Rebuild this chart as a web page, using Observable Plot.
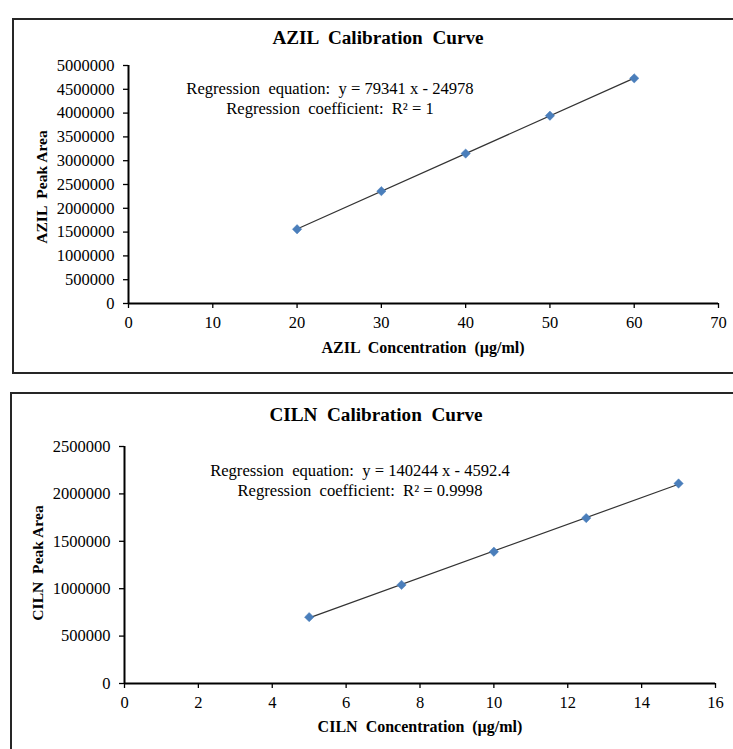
<!DOCTYPE html>
<html>
<head>
<meta charset="utf-8">
<script src="https://cdn.jsdelivr.net/npm/d3@7"></script>
<script src="https://cdn.jsdelivr.net/npm/@observablehq/plot@0.6"></script>
<style>
  html, body { margin: 0; padding: 0; background: #fff; }
  body { position: relative; width: 733px; height: 749px; overflow: hidden; font-family: "Liberation Serif", "Times New Roman", serif; color: #000; }
  .panel { position: absolute; border: 2px solid #262626; box-sizing: border-box; }
  .plot { position: absolute; left: 0; }
  .txt { position: absolute; white-space: pre; transform: translate(-50%, -50%); font-family: "Liberation Serif", "Times New Roman", serif; }
  .title { font-weight: bold; font-size: 19.2px; }
  .axt { font-weight: bold; font-size: 16px; }
  .ann { font-size: 16.6px; line-height: 20px; text-align: center; }
  .rot { transform: translate(-50%, -50%) rotate(-90deg); font-size: 15.6px; }
  svg text { font-family: "Liberation Serif", "Times New Roman", serif; }
</style>
</head>
<body>
<div class="panel" style="left:12px; top:18px; width:740px; height:356px;"></div>
<div class="panel" style="left:10px; top:392px; width:740px; height:380px;"></div>
<div id="p1" class="plot" style="top:0px;"></div>
<div id="p2" class="plot" style="top:380px;"></div>

<div class="txt title" style="left:378px; top:38px;">AZIL  Calibration  Curve</div>
<div class="txt ann" style="left:330px; top:99px;">Regression  equation:  y = 79341 x - 24978
Regression  coefficient:  R² = 1</div>
<div class="txt axt" style="left:423px; top:348px;">AZIL  Concentration  (µg/ml)</div>
<div class="txt axt rot" style="left:42px; top:187px;">AZIL  Peak Area</div>

<div class="txt title" style="left:376px; top:415px;">CILN  Calibration  Curve</div>
<div class="txt ann" style="left:360px; top:481px;">Regression  equation:  y = 140244 x - 4592.4
Regression  coefficient:  R² = 0.9998</div>
<div class="txt axt" style="left:420px; top:727px;">CILN  Concentration  (µg/ml)</div>
<div class="txt axt rot" style="left:38px; top:563px;">CILN  Peak Area</div>

<script>
// AZIL data
const azilConc = [20, 30, 40, 50, 60];
const azilArea = [1560000, 2360000, 3150000, 3945000, 4730000];
const azilXTicks = [0, 10, 20, 30, 40, 50, 60, 70];
const azilYTicks = [0, 500000, 1000000, 1500000, 2000000, 2500000, 3000000, 3500000, 4000000, 4500000, 5000000];

// CILN data
const cilnConc = [5, 7.5, 10, 12.5, 15];
const cilnArea = [700000, 1040000, 1390000, 1745000, 2110000];
const cilnXTicks = [0, 2, 4, 6, 8, 10, 12, 14, 16];
const cilnYTicks = [0, 500000, 1000000, 1500000, 2000000, 2500000];

const markerColor = "#4A7EBB";

function makeChart(conc, area, xTicks, yTicks, opts) {
  const data = conc.map((c, i) => ({x: c, y: area[i]}));
  return Plot.plot({
    width: 733,
    height: opts.height,
    marginLeft: opts.ml,
    marginRight: opts.mr,
    marginTop: opts.mt,
    marginBottom: opts.mb,
    style: {fontFamily: "'Liberation Serif', 'Times New Roman', serif", fontSize: "16.5px", color: "#000", background: "transparent", overflow: "visible"},
    x: {domain: [xTicks[0], xTicks[xTicks.length - 1]]},
    y: {domain: [yTicks[0], yTicks[yTicks.length - 1]]},
    marks: [
      Plot.axisX({ticks: xTicks, tickFormat: d3.format("d"), tickSize: 5, tickPadding: 8, label: null, stroke: "#000", strokeWidth: 1.3}),
      Plot.axisY({ticks: yTicks, tickFormat: d3.format("d"), tickSize: 5, tickPadding: 9, label: null, stroke: "#000", strokeWidth: 1.3}),
      Plot.ruleX([xTicks[0]], {stroke: "#000", strokeWidth: 2}),
      Plot.ruleY([yTicks[0]], {stroke: "#000", strokeWidth: 2}),
      Plot.linearRegressionY(data, {x: "x", y: "y", ci: 0, stroke: "#333", strokeWidth: 1.2}),
      Plot.dot(data, {x: "x", y: "y", symbol: "diamond2", r: 4.2, fill: markerColor, stroke: markerColor, strokeWidth: 0.5})
    ]
  });
}

document.getElementById("p1").append(makeChart(azilConc, azilArea, azilXTicks, azilYTicks,
  {height: 373, ml: 128, mr: 15, mt: 65, mb: 70}));
document.getElementById("p2").append(makeChart(cilnConc, cilnArea, cilnXTicks, cilnYTicks,
  {height: 369, ml: 124, mr: 18, mt: 66, mb: 66}));
</script>
</body>
</html>
